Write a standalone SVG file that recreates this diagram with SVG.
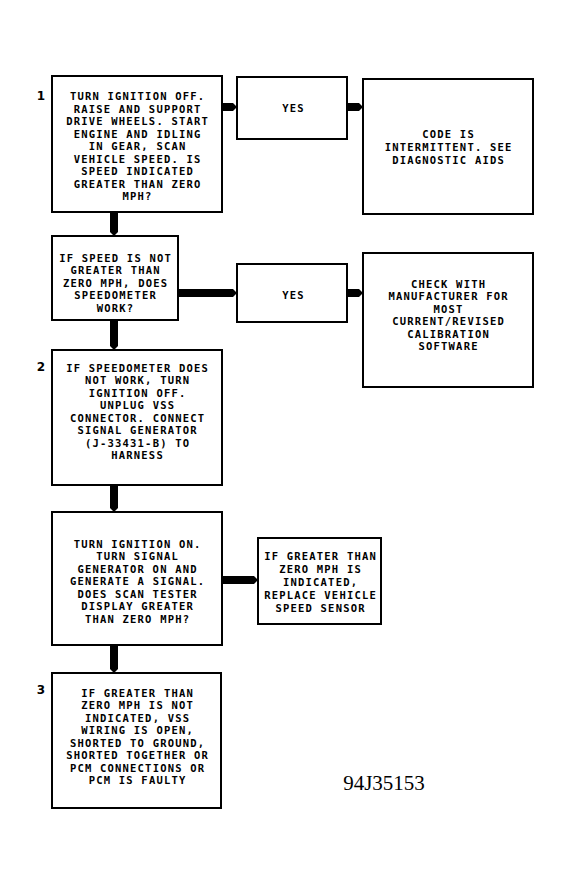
<svg xmlns="http://www.w3.org/2000/svg" width="572" height="886" viewBox="0 0 572 886">
<style>
.box{fill:#fff;stroke:#000;stroke-width:2}
.t{font-family:"DejaVu Sans Mono","Liberation Mono",monospace;font-weight:bold;font-size:10.5px;letter-spacing:1.2px;fill:#000;text-anchor:middle}
.n{font-family:"DejaVu Sans","Liberation Sans",sans-serif;font-weight:bold;font-size:12px;fill:#000;text-anchor:middle}
.id{font-family:"Liberation Serif","Times New Roman",serif;font-size:21px;fill:#000;text-anchor:middle}
.arr{fill:#000;stroke:none}
</style>
<rect width="572" height="886" fill="#fff"/>
<g id="connectors">
<path class="arr" d="M222,103 L233,103 L237,107 L233,111 L222,111 Z"/>
<path class="arr" d="M347,103 L359,103 L363,107 L359,111 L347,111 Z"/>
<path class="arr" d="M110,212 L118,212 L118,232 L114,236 L110,232 Z"/>
<path class="arr" d="M178,289 L233,289 L237,293 L233,297 L178,297 Z"/>
<path class="arr" d="M347,289 L359,289 L363,293 L359,297 L347,297 Z"/>
<path class="arr" d="M110,320 L118,320 L118,346 L114,350 L110,346 Z"/>
<path class="arr" d="M110,485 L118,485 L118,508 L114,512 L110,508 Z"/>
<path class="arr" d="M222,576 L254,576 L258,580 L254,584 L222,584 Z"/>
<path class="arr" d="M110,645 L118,645 L118,669 L114,673 L110,669 Z"/>
</g>
<g id="step1">
<text class="n" x="41" y="100">1</text>
<rect class="box" x="52" y="76" width="170" height="136"/>
<text class="t" x="137.6" y="100">TURN IGNITION OFF.</text>
<text class="t" x="137.6" y="112.5">RAISE AND SUPPORT</text>
<text class="t" x="137.6" y="125">DRIVE WHEELS. START</text>
<text class="t" x="137.6" y="137.5">ENGINE AND IDLING</text>
<text class="t" x="137.6" y="150">IN GEAR, SCAN</text>
<text class="t" x="137.6" y="162.5">VEHICLE SPEED. IS</text>
<text class="t" x="137.6" y="175">SPEED INDICATED</text>
<text class="t" x="137.6" y="187.5">GREATER THAN ZERO</text>
<text class="t" x="137.6" y="200">MPH?</text>
</g>
<g id="yes1">
<rect class="box" x="237" y="77" width="110" height="62"/>
<text class="t" x="293.6" y="112">YES</text>
</g>
<g id="intermittent">
<rect class="box" x="363" y="79" width="170" height="135"/>
<text class="t" x="448.6" y="137.5">CODE IS</text>
<text class="t" x="448.6" y="150.5">INTERMITTENT. SEE</text>
<text class="t" x="448.6" y="163.5">DIAGNOSTIC AIDS</text>
</g>
<g id="speedometer">
<rect class="box" x="52" y="236" width="126" height="84"/>
<text class="t" x="115.6" y="261.5">IF SPEED IS NOT</text>
<text class="t" x="115.6" y="274">GREATER THAN</text>
<text class="t" x="115.6" y="286.5">ZERO MPH, DOES</text>
<text class="t" x="115.6" y="299">SPEEDOMETER</text>
<text class="t" x="115.6" y="311.5">WORK?</text>
</g>
<g id="yes2">
<rect class="box" x="237" y="264" width="110" height="58"/>
<text class="t" x="293.6" y="299">YES</text>
</g>
<g id="calibration">
<rect class="box" x="363" y="253" width="170" height="134"/>
<text class="t" x="448.6" y="287.5">CHECK WITH</text>
<text class="t" x="448.6" y="300">MANUFACTURER FOR</text>
<text class="t" x="448.6" y="312.5">MOST</text>
<text class="t" x="448.6" y="325">CURRENT/REVISED</text>
<text class="t" x="448.6" y="337.5">CALIBRATION</text>
<text class="t" x="448.6" y="350">SOFTWARE</text>
</g>
<g id="step2">
<text class="n" x="41" y="371">2</text>
<rect class="box" x="52" y="350" width="170" height="135"/>
<text class="t" x="137.6" y="371.5">IF SPEEDOMETER DOES</text>
<text class="t" x="137.6" y="384">NOT WORK, TURN</text>
<text class="t" x="137.6" y="396.5">IGNITION OFF.</text>
<text class="t" x="137.6" y="409">UNPLUG VSS</text>
<text class="t" x="137.6" y="421.5">CONNECTOR. CONNECT</text>
<text class="t" x="137.6" y="434">SIGNAL GENERATOR</text>
<text class="t" x="137.6" y="446.5">(J-33431-B) TO</text>
<text class="t" x="137.6" y="459">HARNESS</text>
</g>
<g id="signal">
<rect class="box" x="52" y="512" width="170" height="133"/>
<text class="t" x="137.6" y="547.5">TURN IGNITION ON.</text>
<text class="t" x="137.6" y="560">TURN SIGNAL</text>
<text class="t" x="137.6" y="572.5">GENERATOR ON AND</text>
<text class="t" x="137.6" y="585">GENERATE A SIGNAL.</text>
<text class="t" x="137.6" y="597.5">DOES SCAN TESTER</text>
<text class="t" x="137.6" y="610">DISPLAY GREATER</text>
<text class="t" x="137.6" y="622.5">THAN ZERO MPH?</text>
</g>
<g id="replace">
<rect class="box" x="258" y="538" width="123" height="86"/>
<text class="t" x="320.6" y="559.5">IF GREATER THAN</text>
<text class="t" x="320.6" y="572.5">ZERO MPH IS</text>
<text class="t" x="320.6" y="585.5">INDICATED,</text>
<text class="t" x="320.6" y="598.5">REPLACE VEHICLE</text>
<text class="t" x="320.6" y="611.5">SPEED SENSOR</text>
</g>
<g id="step3">
<text class="n" x="41" y="694">3</text>
<rect class="box" x="52" y="673" width="169" height="135"/>
<text class="t" x="137.6" y="696.5">IF GREATER THAN</text>
<text class="t" x="137.6" y="709">ZERO MPH IS NOT</text>
<text class="t" x="137.6" y="721.5">INDICATED, VSS</text>
<text class="t" x="137.6" y="734">WIRING IS OPEN,</text>
<text class="t" x="137.6" y="746.5">SHORTED TO GROUND,</text>
<text class="t" x="137.6" y="759">SHORTED TOGETHER OR</text>
<text class="t" x="137.6" y="771.5">PCM CONNECTIONS OR</text>
<text class="t" x="137.6" y="784">PCM IS FAULTY</text>
</g>
<text class="id" x="384" y="790">94J35153</text>
</svg>
